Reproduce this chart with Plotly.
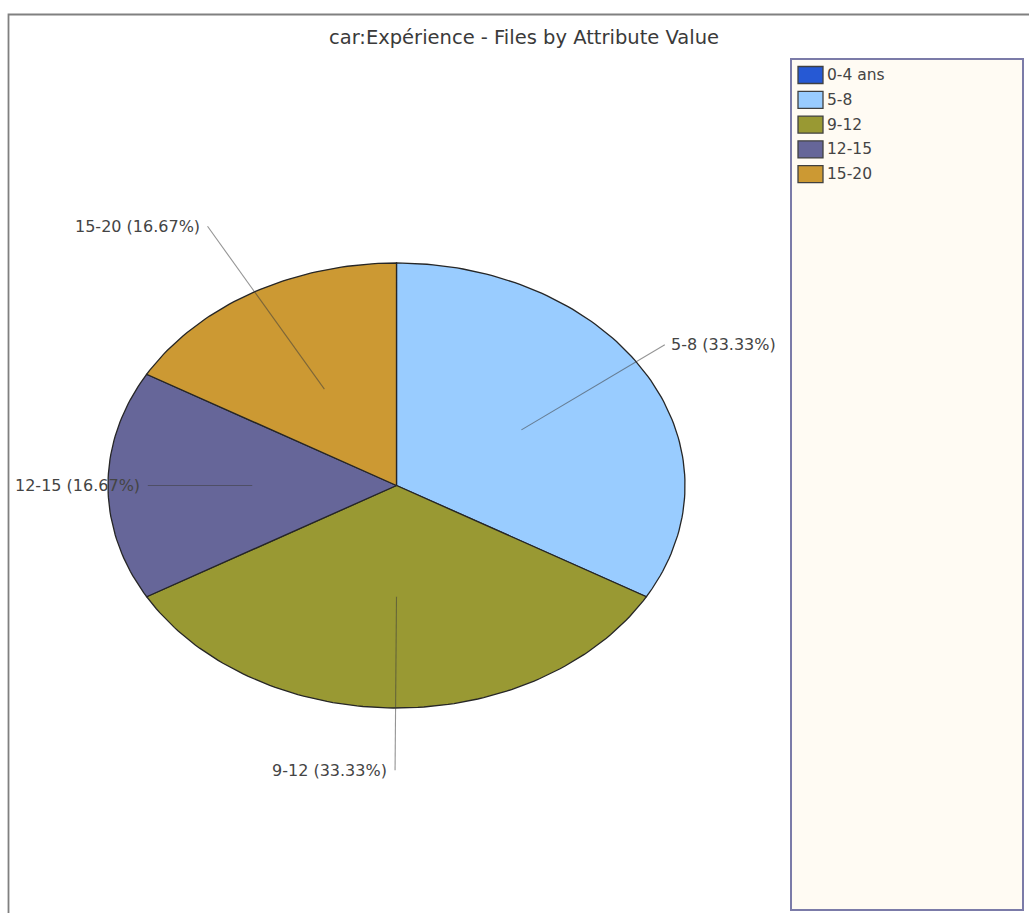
import numpy as np
import plotly.graph_objects as go

# ---------------- data ----------------
categories = ["0-4 ans", "5-8", "9-12", "12-15", "15-20"]
counts = [0, 2, 2, 1, 1]
colors = ["#2659D4", "#99CCFF", "#999933", "#666699", "#CC9933"]
title_text = "car:Expérience - Files by Attribute Value"

# ---------------- layout constants (pixel space) ----------------
W, H = 1029, 913
CX, CY = 396.5, 485.5      # ellipse centre
RX, RY = 288.5, 222.5      # ellipse radii
# label anchor positions in normalised ellipse units (u right, v up)
label_anchor = [None, (0.93, 0.633), (-0.005, -1.28), (-0.862, 0.0), (-0.655, 1.165)]
FONT = "DejaVu Sans, Verdana, sans-serif"

fig = go.Figure()

total = float(sum(counts))
start = 0.0
for i, (cat, val, col) in enumerate(zip(categories, counts, colors)):
    frac = val / total
    end = start + frac * 2 * np.pi
    if val > 0:
        n = max(4, int(300 * frac))
        t = np.linspace(start, end, n)
        xs = np.concatenate([[CX], CX + RX * np.sin(t), [CX]])
        ys = np.concatenate([[CY], CY - RY * np.cos(t), [CY]])
        fig.add_trace(go.Scatter(
            x=xs, y=ys, mode="lines", fill="toself", fillcolor=col,
            line=dict(color="#262626", width=1.3), showlegend=False,
            hoverinfo="text", text=f"{cat}: {val}", name=cat))
    start = end

# leader lines + labels (drawn after slices so they sit on top)
start = 0.0
for i, (cat, val) in enumerate(zip(categories, counts)):
    frac = val / total
    end = start + frac * 2 * np.pi
    if val > 0:
        mid = (start + end) / 2
        x0, y0 = CX + 0.5 * RX * np.sin(mid), CY - 0.5 * RY * np.cos(mid)
        u, v = label_anchor[i]
        x1, y1 = CX + u * RX, CY - v * RY
        fig.add_trace(go.Scatter(
            x=[x0, x1], y=[y0, y1], mode="lines",
            line=dict(color="rgba(60,60,60,0.55)", width=1.1),
            showlegend=False, hoverinfo="skip"))
        left = u > 0.01
        fig.add_annotation(
            x=x1 + (4 if left else -6), y=y1,
            text=f"{cat} ({100 * frac:.2f}%)", showarrow=False,
            xanchor="left" if left else "right", yanchor="middle",
            font=dict(family=FONT, size=16, color="#444444"))
    start = end

# outer frame
fig.add_shape(type="rect", x0=8.5, y0=14.5, x1=W + 10, y1=H + 10,
              line=dict(color="#808080", width=1.8), fillcolor="rgba(0,0,0,0)", layer="below")
# legend box
fig.add_shape(type="rect", x0=791, y0=59, x1=1023, y1=910,
              line=dict(color="#7B7BA8", width=2), fillcolor="#FFFBF3", layer="below")

# legend entries (swatches + labels)
LEG_X0, LEG_W, LEG_H, LEG_Y0, LEG_STEP = 798, 25, 17, 75, 24.8
for k, (cat, col) in enumerate(zip(categories, colors)):
    yc = LEG_Y0 + k * LEG_STEP
    fig.add_shape(type="rect", x0=LEG_X0, x1=LEG_X0 + LEG_W,
                  y0=yc - LEG_H / 2, y1=yc + LEG_H / 2,
                  line=dict(color="#404040", width=1.3), fillcolor=col)
    fig.add_annotation(x=LEG_X0 + LEG_W + 2, y=yc, text=cat, showarrow=False,
                       xanchor="left", yanchor="middle",
                       font=dict(family=FONT, size=15.5, color="#444444"))

fig.update_layout(
    width=W, height=H, autosize=False,
    margin=dict(l=0, r=0, t=0, b=0),
    paper_bgcolor="white", plot_bgcolor="white",
    xaxis=dict(range=[0, W], visible=False, fixedrange=True),
    yaxis=dict(range=[H, 0], visible=False, fixedrange=True),
    title=dict(text=title_text, x=524 / W, xanchor="center", y=1 - 37 / H, yanchor="middle",
               font=dict(family=FONT, size=19.5, color="#3a3a3a")),
    showlegend=False,
)

fig.write_html("out.html", config={"displayModeBar": False},
               post_script="document.body.style.margin='0';")
